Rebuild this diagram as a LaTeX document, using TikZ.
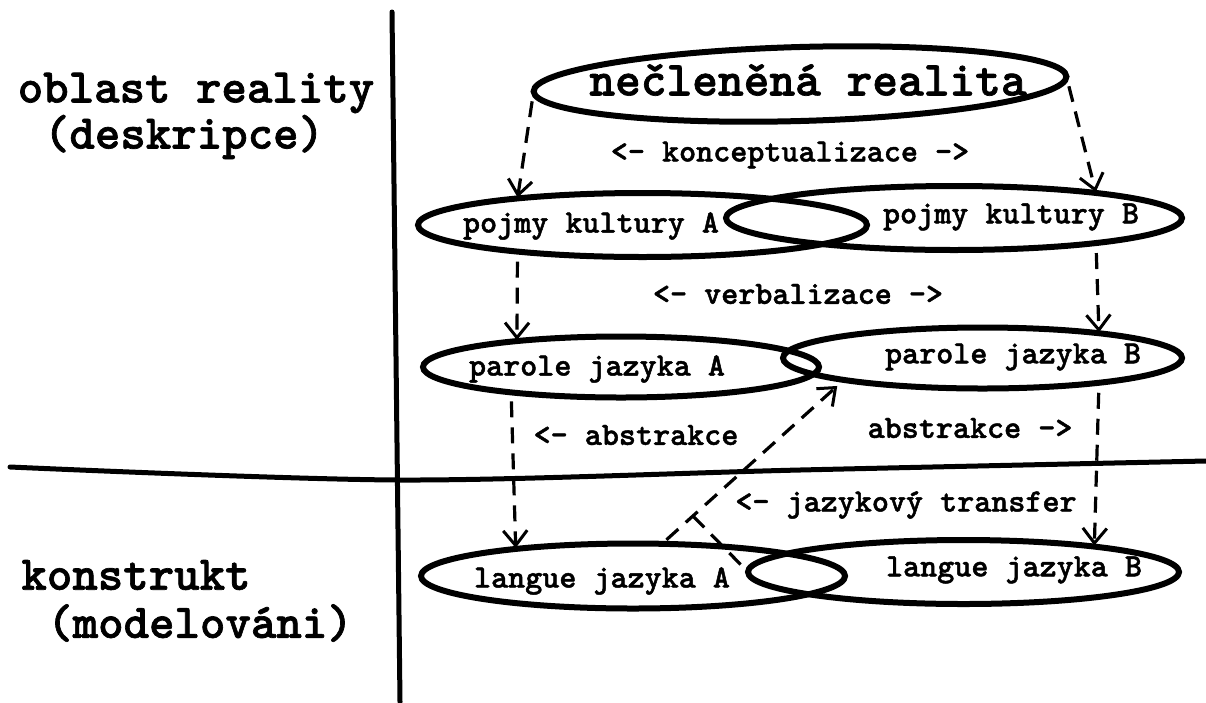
\documentclass[tikz,border=0pt]{standalone}
\usepackage{fontspec}
\newfontfamily\typew{lmmonolt10-bold.otf}[FakeBold=1.4]
\usetikzlibrary{arrows.meta,shapes.geometric}
\begin{document}
\begin{tikzpicture}[x=1pt,y=-1pt,
  ring/.style={draw, ellipse, line width=6pt, inner sep=0pt, outer sep=0pt},
  lbl/.style={font=\fontsize{32.5}{38}\selectfont\typew, inner sep=0pt},
  big/.style={font=\fontsize{49}{56}\selectfont\typew, inner sep=0pt},
  side/.style={font=\fontsize{48.5}{56}\selectfont\typew, inner sep=0pt},
  dashline/.style={dash pattern=on 16pt off 10pt, line width=3.2pt},
  flow/.style={dashline, -{Straight Barb[length=15pt,width=24pt,line width=3pt]},
    shorten <=10pt, shorten >=1pt},
  rule/.style={line width=5pt, line cap=round, line join=round}
]
\useasboundingbox (0,0) rectangle (1206,702);

% dividing lines
\draw[rule] (392,12) -- (400,702);
\draw[rule] plot[smooth] coordinates {(10,467) (400,480) (800,470) (1206,461)};

% side labels
\node[side] (reality) at (196,93) {oblast reality};
\node[side] (deskr) at (184,137) {(deskripce)};
\node[side] (konstr) at (136,575) {konstrukt};
\node[side] (model) at (200,623) {(modelováni)};

% ellipses
\node[ring, rotate=1.6, minimum width=533pt, minimum height=74pt] (TR) at (800,84) {};
\node[ring, minimum width=449pt, minimum height=64pt] (pjA) at (642.5,225) {};
\node[ring, minimum width=456pt, minimum height=64pt] (pjB) at (954,218) {};
\node[ring, minimum width=396pt, minimum height=61pt] (paA) at (621,367) {};
\node[ring, minimum width=399pt, minimum height=61pt] (paB) at (982.5,358) {};
\node[ring, minimum width=424pt, minimum height=65pt] (laA) at (633,576) {};
\node[ring, minimum width=431pt, minimum height=64pt] (laB) at (963.5,572) {};

% texts inside ellipses
\node[big] (tTR) at (808,80) {nečleněná realita};
\node[lbl] (tpjA) at (591,226) {pojmy kultury A};
\node[lbl] (tpjB) at (1011,217) {pojmy kultury B};
\node[lbl] (tpaA) at (597,369) {parole jazyka A};
\node[lbl] (tpaB) at (1013,357) {parole jazyka B};
\node[lbl] (tlaA) at (602,581) {langue jazyka A};
\node[lbl] (tlaB) at (1014,570) {langue jazyka B};

% process labels
\node[lbl] (konc) at (790,155) {<- konceptualizace ->};
\node[lbl] (verb) at (798,294) {<- verbalizace ->};
\node[lbl] (abA) at (636,435) {<- abstrakce};
\node[lbl] (abB) at (970,428) {abstrakce ->};
\node[lbl] (trans) at (906,505) {<- jazykový transfer};

% connectors
\draw[flow] (TR.west) -- (pjA.168);
\draw[flow] (TR.east) -- (pjB.10.5);
\draw[flow] (pjA.192) -- (paA.166.5);
\draw[flow] (pjB.-10.5) -- (paB.12.8);
\draw[flow, shorten <=9pt] (paA.193.5) -- (laA.167.2);
\draw[flow] (paB.-12.8) -- (laB.11.1);
\draw[flow, shorten <=6pt, shorten >=9pt] (laA.48) -- (paB.189)
  coordinate[pos=0.17] (cross);
\draw[dashline, shorten >=4pt] (cross) -- (laB.west);
\end{tikzpicture}
\end{document}
